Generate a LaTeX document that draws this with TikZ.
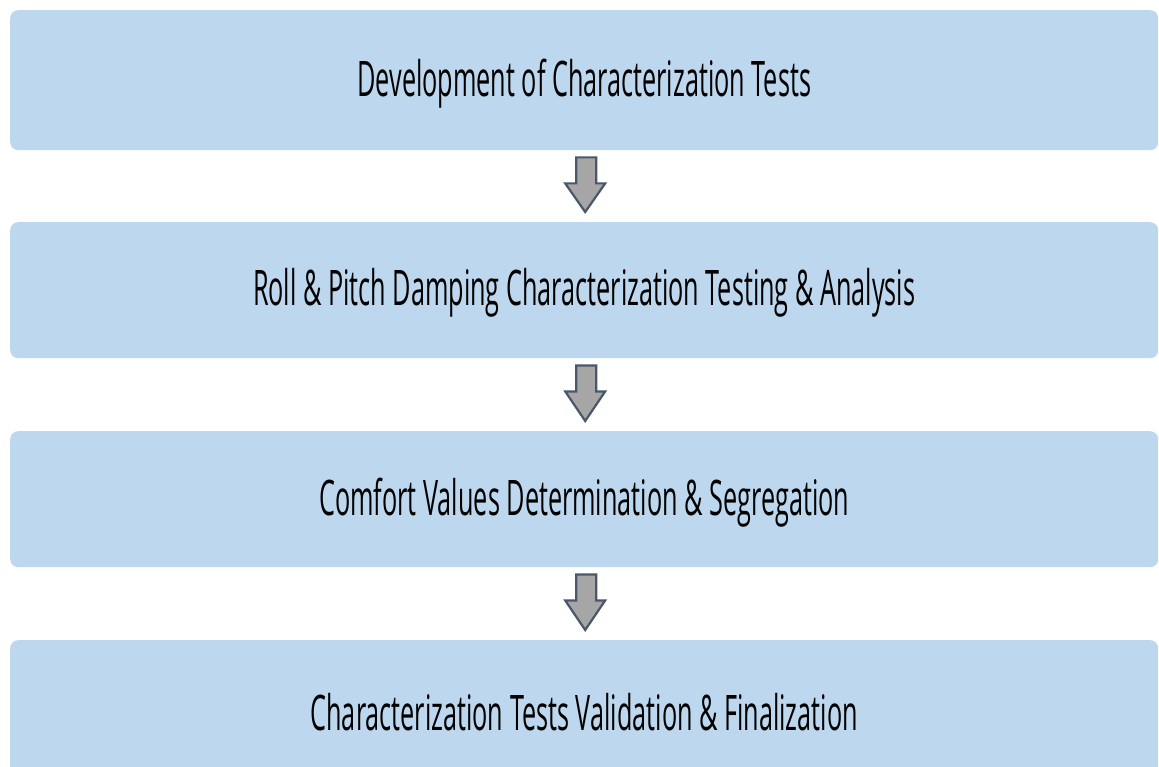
\documentclass[tikz,border=0pt]{standalone}
\usepackage{fontspec}
\setmainfont{Open Sans}
\usetikzlibrary{calc}
\definecolor{boxblue}{HTML}{BDD7EE}
\definecolor{arrowgray}{HTML}{A6A6A6}
\definecolor{arrowedge}{HTML}{4A576B}
\newcommand{\steptext}[1]{\scalebox{0.515}[1]{\fontsize{49}{55}\selectfont #1}}
\begin{document}
\begin{tikzpicture}[x=1pt,y=-1pt,
  stagebox/.style={rectangle, rounded corners=8pt, fill=boxblue, draw=none,
    minimum width=1148pt, minimum height=138pt, inner sep=0pt, anchor=north west},
  flowarrow/.style={fill=arrowgray, draw=arrowedge, line width=2.2pt, line join=miter}]
\useasboundingbox (0,0) rectangle (1159,767);
\begin{scope}
\clip (0,0) rectangle (1159,767);
\node[stagebox, minimum height=140pt] (s1) at (10,10) {};
\node[stagebox, minimum height=136pt] (s2) at (10,222) {};
\node[stagebox, minimum height=136pt] (s3) at (10,431) {};
\node[stagebox] (s4) at (10,640) {};
\end{scope}
\node (t1) at ($(s1.center)+(0,3)$) {\steptext{Development of Characterization Tests}};
\node (t2) at ($(s2.center)+(0,3)$) {\steptext{Roll \& Pitch Damping Characterization Testing \& Analysis}};
\node (t3) at ($(s3.center)+(0,3)$) {\steptext{Comfort Values Determination \& Segregation}};
\node (t4) at ($(s4.north)+(0,72)$) {\steptext{Characterization Tests Validation \& Finalization}};
% block arrows between consecutive stages
\foreach \a/\b in {s1/s2, s2/s3, s3/s4}{
  \draw[flowarrow]
    ($(\a.south)+(-8,7)$) -- ($(\a.south)+(12,7)$) -- ($(\a.south)+(12,33)$)
    -- ($(\a.south)+(21,33)$) -- ($(\b.north)+(1,-10)$)
    -- ($(\a.south)+(-19,33)$) -- ($(\a.south)+(-8,33)$) -- cycle;
}
\end{tikzpicture}
\end{document}
